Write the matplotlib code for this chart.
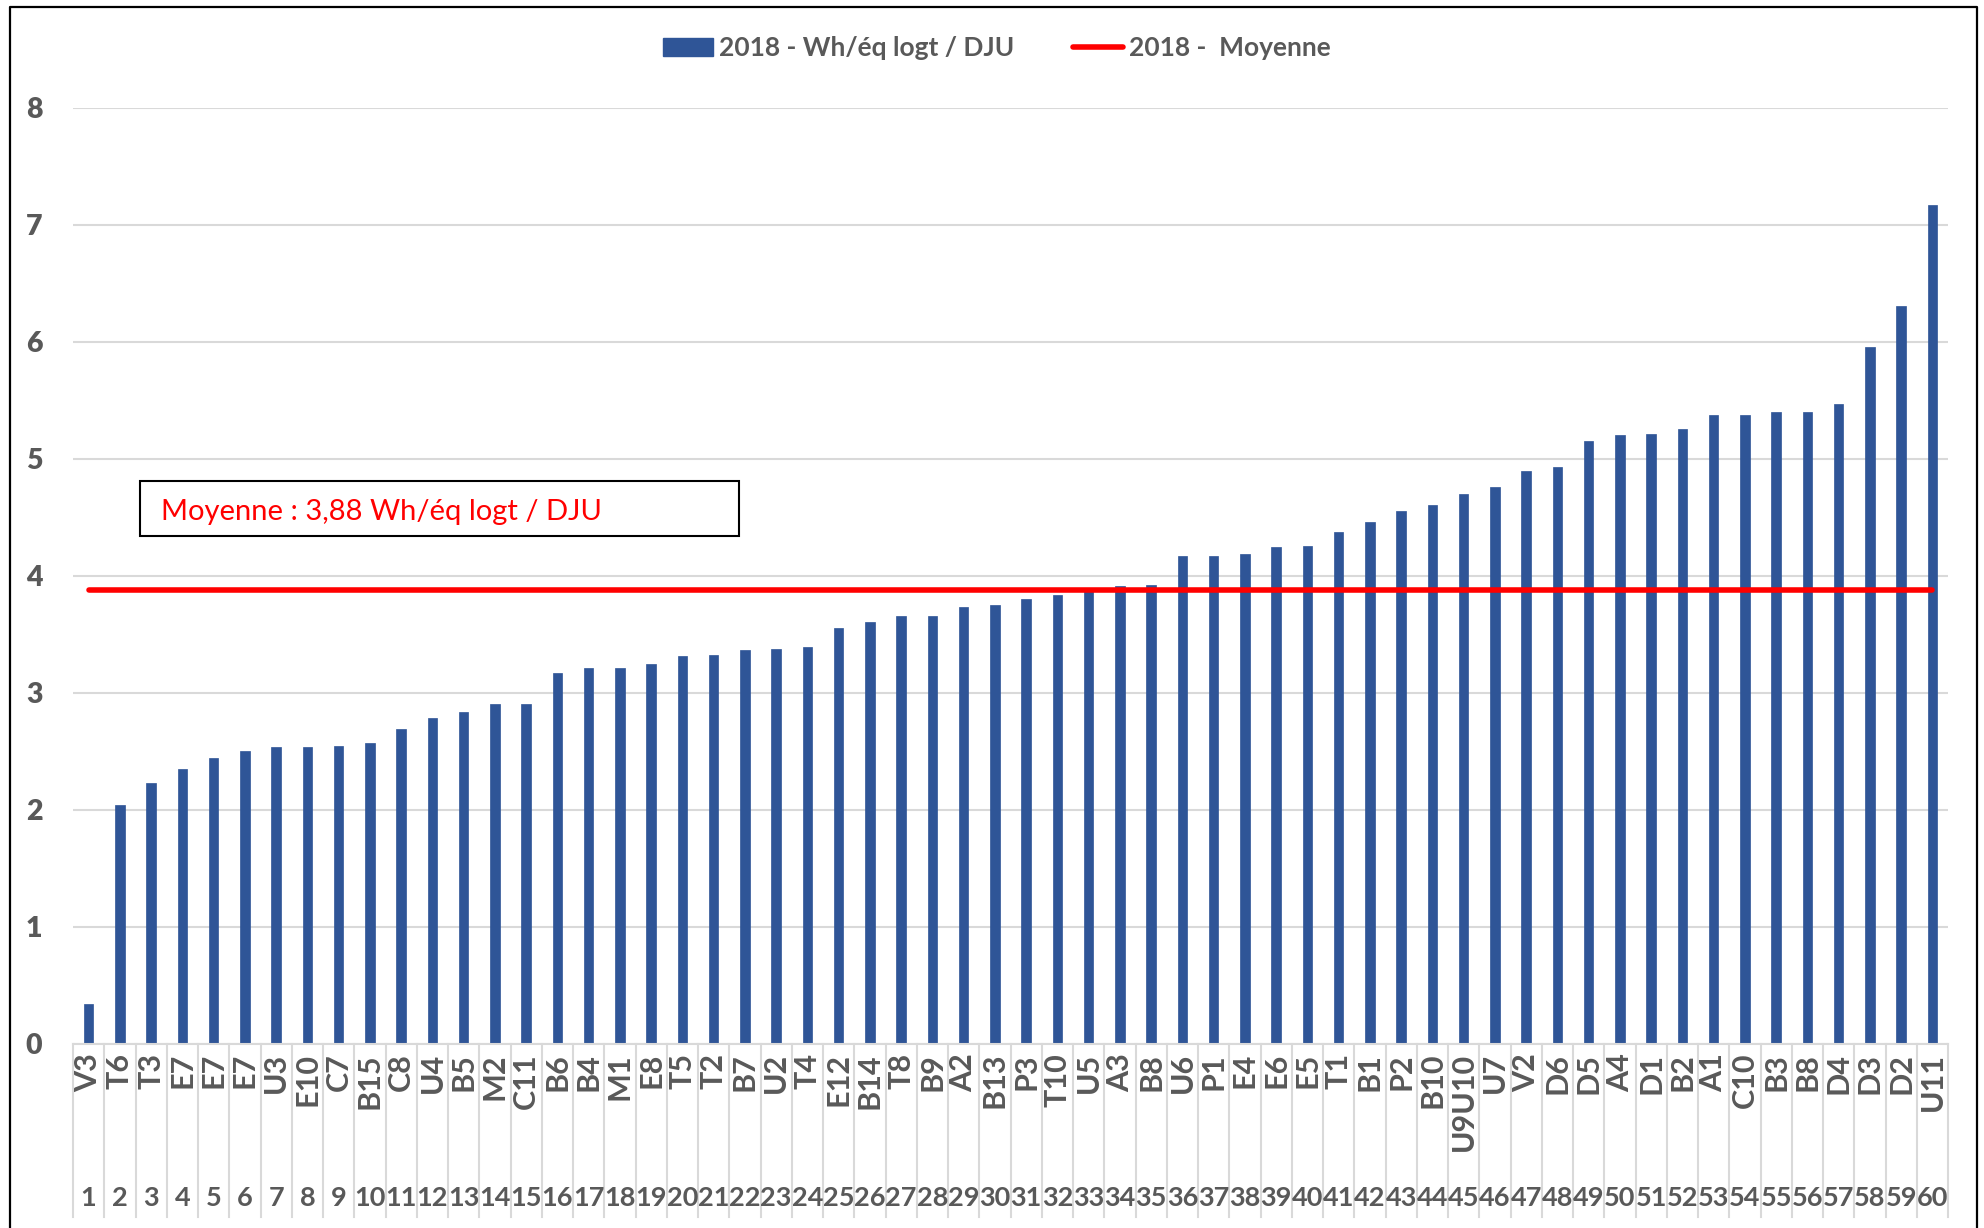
import numpy as np
import matplotlib
matplotlib.use('Agg')
import matplotlib.pyplot as plt
from matplotlib.patches import Rectangle, Patch
from matplotlib.lines import Line2D

plt.rcParams['font.family'] = ['Lato', 'DejaVu Sans']

#%% data
names = ['V3', 'T6', 'T3', 'E7', 'E7', 'E7', 'U3', 'E10', 'C7', 'B15',
         'C8', 'U4', 'B5', 'M2', 'C11', 'B6', 'B4', 'M1', 'E8', 'T5',
         'T2', 'B7', 'U2', 'T4', 'E12', 'B14', 'T8', 'B9', 'A2', 'B13',
         'P3', 'T10', 'U5', 'A3', 'B8', 'U6', 'P1', 'E4', 'E6', 'E5',
         'T1', 'B1', 'P2', 'B10', 'U9U10', 'U7', 'V2', 'D6', 'D5', 'A4',
         'D1', 'B2', 'A1', 'C10', 'B3', 'B8', 'D4', 'D3', 'D2', 'U11']
ranks = list(range(1, 61))
values = [0.34, 2.04, 2.23, 2.35, 2.44, 2.50, 2.53, 2.53, 2.54, 2.57,
          2.69, 2.78, 2.83, 2.90, 2.90, 3.17, 3.21, 3.21, 3.24, 3.31,
          3.32, 3.36, 3.37, 3.39, 3.55, 3.60, 3.65, 3.65, 3.73, 3.75,
          3.80, 3.83, 3.87, 3.91, 3.92, 4.17, 4.17, 4.18, 4.24, 4.25,
          4.37, 4.46, 4.55, 4.60, 4.70, 4.76, 4.89, 4.93, 5.15, 5.20,
          5.21, 5.25, 5.37, 5.37, 5.40, 5.40, 5.47, 5.95, 6.30, 7.17]
moyenne = 3.88
yticks = [0, 1, 2, 3, 4, 5, 6, 7, 8]

bar_color = '#2F5597'
grey = '#595959'
grid_c = '#D9D9D9'

#%% figure
W, H = 1984, 1228
fig = plt.figure(figsize=(W / 100, H / 100), dpi=100)
ax = fig.add_axes([73 / W, 1 - 1043.5 / H, (1948 - 73) / W, (1043.5 - 107.5) / H])

ax.bar(ranks, values, width=0.3, color=bar_color, edgecolor=bar_color,
       linewidth=0.5, zorder=2)
ax.plot([ranks[0], ranks[-1]], [moyenne, moyenne], color='red', linewidth=4,
        solid_capstyle='round', zorder=3)

ax.set_xlim(0.5, 60.5)
ax.set_ylim(0, 8)
ax.set_yticks(yticks)
ax.set_yticklabels([str(t) for t in yticks], fontsize=20.5, fontweight='heavy', color=grey)
ax.tick_params(axis='y', length=0, pad=22)
ax.set_xticks([])
ax.yaxis.grid(True, color=grid_c, linewidth=1.5, zorder=0)
ax.set_axisbelow(True)
for s in ['top', 'right', 'left']:
    ax.spines[s].set_visible(False)
ax.spines['bottom'].set_color(grid_c)
ax.spines['bottom'].set_linewidth(1.5)

# category separators and two-level labels
trans = ax.get_xaxis_transform()
y_low = -(1217 - 1043.5) / (1043.5 - 107.5)
for k in range(61):
    ax.add_line(Line2D([k + 0.5, k + 0.5], [0, y_low], transform=trans,
                       color=grid_c, linewidth=1.5, clip_on=False))
y_name = -(1053 - 1043.5) / (1043.5 - 107.5)
y_num = -(1198 - 1043.5) / (1043.5 - 107.5)
for r, n in zip(ranks, names):
    ax.text(r, y_name, n, transform=trans, rotation=90, ha='center', va='top',
            fontsize=22, fontweight='bold', color=grey)
    ax.text(r, y_num, str(r), transform=trans, ha='center', va='center',
            fontsize=19.5, fontweight='bold', color=grey)

# legend
handles = [Patch(facecolor=bar_color, edgecolor=bar_color),
           Line2D([], [], color='red', linewidth=4, solid_capstyle='round')]
labels = ['2018 - Wh/éq logt / DJU', '2018 -  Moyenne']
leg = fig.legend(handles, labels, loc='center', bbox_to_anchor=(0.5025, 1 - 48 / H),
                 ncol=2, frameon=False, handlelength=1.9, handletextpad=0.25,
                 columnspacing=2.2, prop={'size': 19, 'weight': 'bold'})
for t in leg.get_texts():
    t.set_color(grey)

# annotation box
fig.add_artist(Rectangle((140 / W, 1 - 536 / H), 599 / W, 55 / H,
                         transform=fig.transFigure, facecolor='white',
                         edgecolor='black', linewidth=1.5, zorder=5))
fig.text(161 / W, 1 - 512 / H, 'Moyenne : 3,88 Wh/éq logt / DJU', color='red',
         fontsize=21, va='center', ha='left', zorder=6)

# chart frame
fig.add_artist(Line2D([10 / W, 10 / W, 1977 / W, 1977 / W], [0, 1 - 7 / H, 1 - 7 / H, 0],
                      transform=fig.transFigure, color='black', linewidth=1.6))

fig.savefig('out.png', dpi=100)
